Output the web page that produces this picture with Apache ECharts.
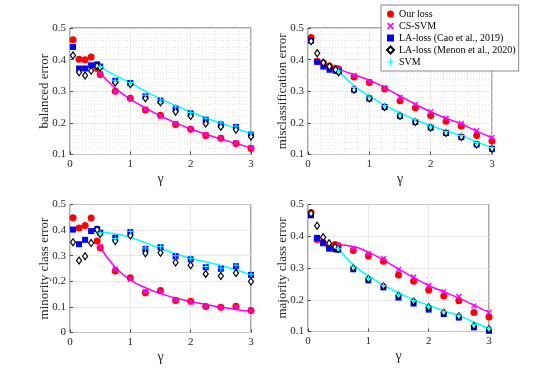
<!DOCTYPE html>
<html>
<head>
<meta charset="utf-8">
<script src="https://cdn.jsdelivr.net/npm/echarts@6/dist/echarts.min.js"></script>
<style>
  html, body { margin: 0; padding: 0; background: #fff; }
  #main { width: 540px; height: 374px; }
</style>
</head>
<body>
<div id="main"></div>
<script>
// gamma values: small grid (only our loss / LA-loss) and main grid (all methods)
var gammaLow = [0.05, 0.15, 0.25, 0.35, 0.45];
var gammaHigh = [0.5, 0.75, 1, 1.25, 1.5, 1.75, 2, 2.25, 2.5, 2.75, 3];
var xTicks = [0, 1, 2, 3];

// balanced error
var balOur   = [0.463, 0.401, 0.400, 0.408, 0.372, 0.353, 0.300, 0.278, 0.241, 0.224, 0.195, 0.180, 0.160, 0.151, 0.135, 0.119];
var balCs    = [0.355, 0.300, 0.276, 0.243, 0.222, 0.198, 0.181, 0.163, 0.151, 0.137, 0.122];
var balCao   = [0.440, 0.372, 0.372, 0.382, 0.385, 0.378, 0.333, 0.326, 0.284, 0.270, 0.245, 0.230, 0.210, 0.195, 0.187, 0.163];
var balMenon = [0.413, 0.360, 0.350, 0.365, 0.380, 0.375, 0.328, 0.322, 0.278, 0.265, 0.235, 0.222, 0.198, 0.188, 0.178, 0.157];
var balSvm   = [0.378, 0.335, 0.328, 0.287, 0.273, 0.250, 0.233, 0.215, 0.200, 0.190, 0.168];
var balCsFit  = [0.357, 0.310, 0.275, 0.247, 0.222, 0.200, 0.181, 0.164, 0.149, 0.135, 0.121];
var balSvmFit = [0.377, 0.350, 0.327, 0.300, 0.276, 0.255, 0.235, 0.216, 0.199, 0.182, 0.166];

// misclassification error
var misOur   = [0.470, 0.395, 0.390, 0.380, 0.373, 0.370, 0.345, 0.328, 0.307, 0.270, 0.248, 0.223, 0.205, 0.190, 0.160, 0.143];
var misCs    = [0.370, 0.350, 0.330, 0.312, 0.280, 0.258, 0.235, 0.215, 0.198, 0.175, 0.153];
var misCao   = [0.460, 0.393, 0.378, 0.368, 0.365, 0.363, 0.305, 0.277, 0.250, 0.222, 0.203, 0.185, 0.168, 0.155, 0.132, 0.118];
var misMenon = [0.458, 0.420, 0.390, 0.378, 0.368, 0.360, 0.305, 0.277, 0.250, 0.222, 0.203, 0.185, 0.168, 0.155, 0.132, 0.118];
var misSvm   = [0.365, 0.312, 0.282, 0.255, 0.228, 0.210, 0.190, 0.173, 0.160, 0.138, 0.122];
var misCsFit  = [0.370, 0.352, 0.335, 0.311, 0.285, 0.259, 0.235, 0.215, 0.196, 0.174, 0.153];
var misSvmFit = [0.365, 0.317, 0.285, 0.256, 0.232, 0.210, 0.192, 0.175, 0.160, 0.140, 0.122];

// minority class error
var minOur   = [0.448, 0.408, 0.418, 0.447, 0.357, 0.331, 0.240, 0.214, 0.155, 0.164, 0.125, 0.122, 0.102, 0.099, 0.103, 0.086];
var minCs    = [0.335, 0.248, 0.208, 0.160, 0.160, 0.128, 0.120, 0.103, 0.099, 0.100, 0.086];
var minCao   = [0.402, 0.345, 0.362, 0.396, 0.404, 0.390, 0.370, 0.392, 0.326, 0.333, 0.298, 0.286, 0.255, 0.249, 0.259, 0.225];
var minMenon = [0.353, 0.281, 0.298, 0.350, 0.401, 0.385, 0.357, 0.379, 0.310, 0.312, 0.273, 0.263, 0.229, 0.221, 0.232, 0.199];
var minSvm   = [0.390, 0.367, 0.395, 0.330, 0.335, 0.300, 0.290, 0.258, 0.252, 0.263, 0.228];
var minCsFit  = [0.333, 0.255, 0.206, 0.175, 0.152, 0.135, 0.121, 0.109, 0.099, 0.090, 0.083];
var minSvmFit = [0.392, 0.386, 0.372, 0.350, 0.328, 0.308, 0.290, 0.276, 0.262, 0.245, 0.225];

// majority class error
var majOur   = [0.475, 0.390, 0.381, 0.368, 0.374, 0.370, 0.355, 0.338, 0.321, 0.278, 0.258, 0.231, 0.212, 0.197, 0.160, 0.146];
var majCs    = [0.372, 0.362, 0.345, 0.330, 0.295, 0.272, 0.245, 0.225, 0.210, 0.180, 0.160];
var majCao   = [0.466, 0.395, 0.378, 0.361, 0.359, 0.358, 0.296, 0.261, 0.239, 0.207, 0.188, 0.169, 0.155, 0.144, 0.113, 0.102];
var majMenon = [0.472, 0.433, 0.397, 0.378, 0.366, 0.360, 0.300, 0.265, 0.243, 0.213, 0.195, 0.176, 0.160, 0.148, 0.118, 0.108];
var majSvm   = [0.362, 0.303, 0.268, 0.245, 0.216, 0.198, 0.178, 0.162, 0.150, 0.122, 0.110];
var majCsFit  = [0.373, 0.368, 0.350, 0.325, 0.297, 0.270, 0.245, 0.225, 0.205, 0.183, 0.160];
var majSvmFit = [0.362, 0.310, 0.275, 0.246, 0.222, 0.200, 0.183, 0.165, 0.150, 0.130, 0.108];

var names = ['Our loss', 'CS-SVM', 'LA-loss (Cao et al., 2019)', 'LA-loss (Menon et al., 2020)', 'SVM'];

var FONT = '"Liberation Serif", "DejaVu Serif", serif';
var INK = '#262626';
var PLUS = 'path://M-1,-6H1V-1H6V1H1V6H-1V1H-6V-1H-1Z';
var CROSS = 'path://M-4.2,-2.8L-2.8,-4.2L0,-1.4L2.8,-4.2L4.2,-2.8L1.4,0L4.2,2.8L2.8,4.2L0,1.4L-2.8,4.2L-4.2,2.8L-1.4,0Z';

function pairs(xs, ys) {
  return ys.map(function (v, i) { return [xs[i], v]; });
}
var gammaAll = gammaLow.concat(gammaHigh);

var panels = [
  { grid: { left: 70, top: 28, width: 181, height: 126.5 }, ymin: 0.1, title: 'balanced error', minor: true,
    our: balOur, cs: balCs, cao: balCao, menon: balMenon, svm: balSvm, csFit: balCsFit, svmFit: balSvmFit },
  { grid: { left: 308, top: 28, width: 184, height: 126.5 }, ymin: 0.1, title: 'misclassification error', minor: true,
    our: misOur, cs: misCs, cao: misCao, menon: misMenon, svm: misSvm, csFit: misCsFit, svmFit: misSvmFit },
  { grid: { left: 70, top: 204.5, width: 181, height: 128 }, ymin: 0, title: 'minority class error', minor: false,
    our: minOur, cs: minCs, cao: minCao, menon: minMenon, svm: minSvm, csFit: minCsFit, svmFit: minSvmFit },
  { grid: { left: 308, top: 204.5, width: 181, height: 127 }, ymin: 0.1, title: 'majority class error', minor: false,
    our: majOur, cs: majCs, cao: majCao, menon: majMenon, svm: majSvm, csFit: majCsFit, svmFit: majSvmFit }
];

var grids = [], xAxes = [], yAxes = [], series = [];

panels.forEach(function (p, k) {
  grids.push(Object.assign({ show: true, borderColor: INK, borderWidth: 0.8, backgroundColor: '#fff' }, p.grid));
  var split = { show: true, lineStyle: { color: '#e3e3e3', width: 0.8 } };
  var minorSplit = { show: p.minor, lineStyle: { color: '#dcdcdc', width: 0.8, type: [1, 2] } };
  var minorTick = { show: p.minor, splitNumber: 5, length: 0.01, lineStyle: { color: 'rgba(0,0,0,0)' } };
  xAxes.push({
    gridIndex: k, type: 'value', min: xTicks[0], max: xTicks[xTicks.length - 1], interval: 1,
    axisLine: { show: false },
    axisTick: { show: true, inside: true, length: 3, lineStyle: { color: INK, width: 0.8 } },
    minorTick: minorTick,
    axisLabel: { fontFamily: FONT, fontSize: 11, color: INK, margin: 4 },
    splitLine: split, minorSplitLine: minorSplit,
    name: 'γ', nameLocation: 'middle', nameGap: 18, nameMoveOverlap: false,
    nameTextStyle: { fontFamily: FONT, fontSize: 14, color: INK }
  });
  yAxes.push({
    gridIndex: k, type: 'value', min: p.ymin, max: 0.5, interval: 0.1,
    axisLine: { show: false },
    axisTick: { show: true, inside: true, length: 3, lineStyle: { color: INK, width: 0.8 } },
    minorTick: minorTick,
    axisLabel: { fontFamily: FONT, fontSize: 11, color: INK, margin: 4,
      formatter: function (v) { return v === 0 ? '0' : v.toFixed(1); } },
    splitLine: split, minorSplitLine: minorSplit,
    name: p.title, nameLocation: 'middle', nameGap: 19, nameMoveOverlap: false,
    nameTextStyle: { fontFamily: FONT, fontSize: 13, color: INK }
  });

  var base = { xAxisIndex: k, yAxisIndex: k, animation: false };
  // fitted curves
  series.push(Object.assign({ type: 'line', name: 'cs-fit', data: pairs(gammaHigh, p.csFit), smooth: true,
    showSymbol: false, lineStyle: { color: '#ff00ff', width: 1.5 }, z: 3 }, base));
  series.push(Object.assign({ type: 'line', name: 'svm-fit', data: pairs(gammaHigh, p.svmFit), smooth: true,
    showSymbol: false, lineStyle: { color: '#00ffff', width: 1.5 }, z: 3 }, base));
  // markers
  series.push(Object.assign({ type: 'scatter', name: names[0], data: pairs(gammaAll, p.our),
    symbol: 'circle', symbolSize: 7, itemStyle: { color: '#ff0000', opacity: 1 }, z: 4 }, base));
  series.push(Object.assign({ type: 'scatter', name: names[1], data: pairs(gammaHigh, p.cs),
    symbol: CROSS, symbolSize: 6, itemStyle: { color: '#ff00ff', opacity: 1 }, z: 5 }, base));
  series.push(Object.assign({ type: 'scatter', name: names[2], data: pairs(gammaAll, p.cao),
    symbol: 'rect', symbolSize: 6, itemStyle: { color: '#0000ff', opacity: 1 }, z: 6 }, base));
  series.push(Object.assign({ type: 'scatter', name: names[3], data: pairs(gammaAll, p.menon),
    symbol: 'diamond', symbolSize: [5, 7], itemStyle: { color: '#ffffff', borderColor: '#000', borderWidth: 1.2, opacity: 1 }, z: 7 }, base));
  series.push(Object.assign({ type: 'scatter', name: names[4], data: pairs(gammaHigh, p.svm),
    symbol: PLUS, symbolSize: 6, itemStyle: { color: '#00ffff', opacity: 1 }, z: 8 }, base));
});

var chart = echarts.init(document.getElementById('main'), null, { renderer: 'canvas' });
chart.setOption({
  backgroundColor: '#fff',
  animation: false,
  grid: grids,
  xAxis: xAxes,
  yAxis: yAxes,
  legend: {
    data: names, orient: 'vertical', left: 381, top: 5,
    backgroundColor: '#fff', borderColor: '#6a6a6a', borderWidth: 0.8,
    padding: [3, 3, 3, 5], itemGap: 0, itemWidth: 7, itemHeight: 7,
    textStyle: { fontFamily: FONT, fontSize: 10, lineHeight: 12, color: '#000' },
    z: 20
  },
  series: series
});
</script>
</body>
</html>
